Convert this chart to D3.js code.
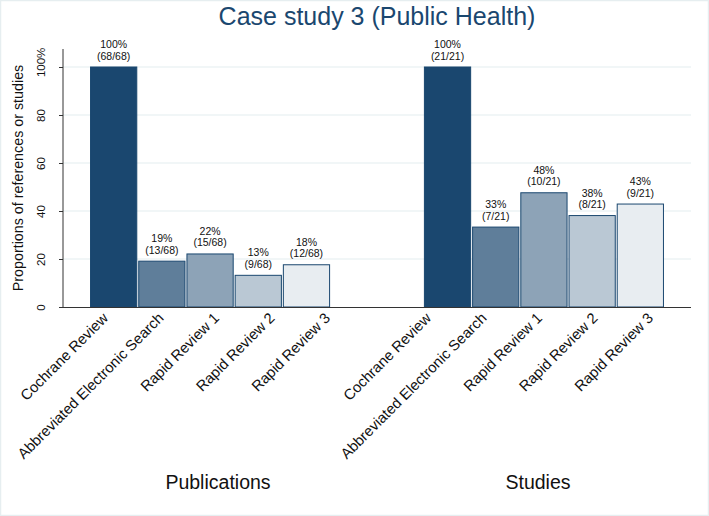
<!DOCTYPE html>
<html>
<head>
<meta charset="utf-8">
<script src="https://cdn.jsdelivr.net/npm/d3@7"></script>
<style>
  html, body { margin: 0; padding: 0; background: #ffffff; }
  svg { display: block; font-family: "Liberation Sans", Arial, Helvetica, sans-serif; }
</style>
</head>
<body>
<svg id="chart" width="709" height="516"></svg>
<script>
// ---- data ----
const groups = ["Publications", "Studies"];
const categories = ["Cochrane Review", "Abbreviated Electronic Search", "Rapid Review 1", "Rapid Review 2", "Rapid Review 3"];
const publicationsPct = [100, 19.1, 22.1, 13.2, 17.6];
const publicationsLabel = ["(68/68)", "(13/68)", "(15/68)", "(9/68)", "(12/68)"];
const studiesPct = [100, 33.3, 47.6, 38.1, 42.9];
const studiesLabel = ["(21/21)", "(7/21)", "(10/21)", "(8/21)", "(9/21)"];
const yTicks = [0, 20, 40, 60, 80, 100];
const barColors = ["#1a476f", "#5f7e9a", "#8da3b7", "#bac8d4", "#e8edf1"];
const titleText = "Case study 3 (Public Health)";
const yTitle = "Proportions of references or studies";

const seriesByGroup = {
  "Publications": { pct: publicationsPct, label: publicationsLabel },
  "Studies": { pct: studiesPct, label: studiesLabel }
};

// ---- layout ----
const W = 709, H = 516;
const pLeft = 63, pRight = 691, pTop = 49, pBottom = 307;
const catLabelCenter = { "Publications": 220, "Studies": 543 };
const groupLabelCenter = { "Publications": 218, "Studies": 538 };
const catLabelStep = 55.5;
const svg = d3.select("#chart");

// faint outer border
svg.append("rect").attr("x", 0.5).attr("y", 0.5).attr("width", W - 1).attr("height", H - 1)
  .attr("fill", "#ffffff").attr("stroke", "#e6eef0").attr("stroke-width", 1.5);

const y = d3.scaleLinear().domain([0, 100]).range([pBottom, 67]);
const x0 = d3.scaleBand().domain(groups).range([pLeft, pRight]).paddingInner(0.281).paddingOuter(0.081);
const x1 = d3.scaleBand().domain(categories).range([0, x0.bandwidth()]).paddingInner(0.02);
const color = d3.scaleOrdinal().domain(categories).range(barColors);

// gridlines
svg.append("g").selectAll("line").data(yTicks.filter(d => d > 0)).join("line")
  .attr("x1", pLeft).attr("x2", pRight)
  .attr("y1", d => y(d)).attr("y2", d => y(d))
  .attr("stroke", "#e3edef").attr("stroke-width", 1.2);

// title
svg.append("text").attr("x", (pLeft + pRight) / 2).attr("y", 25)
  .attr("text-anchor", "middle").attr("font-size", 25).attr("fill", "#1a476f")
  .text(titleText);

// bars
const gGroups = svg.append("g").selectAll("g").data(groups).join("g")
  .attr("transform", g => `translate(${x0(g)},0)`);

gGroups.each(function(g) {
  const s = seriesByGroup[g];
  const rows = categories.map((c, i) => ({ cat: c, v: s.pct[i], lab: s.label[i] }));
  const sel = d3.select(this);
  sel.selectAll("rect").data(rows).join("rect")
    .attr("x", d => x1(d.cat) + 0.5)
    .attr("y", d => y(d.v))
    .attr("width", x1.bandwidth() - 1)
    .attr("height", d => y(0) - y(d.v))
    .attr("fill", d => color(d.cat))
    .attr("stroke", "#1a476f").attr("stroke-width", 1);
  const lab = sel.selectAll("text.val").data(rows).join("text").attr("class", "val")
    .attr("text-anchor", "middle").attr("font-size", 10.5).attr("fill", "#111");
  lab.append("tspan").attr("x", d => x1(d.cat) + x1.bandwidth() / 2)
    .attr("y", d => y(d.v) - 19).text(d => Math.round(d.v) + "%");
  lab.append("tspan").attr("x", d => x1(d.cat) + x1.bandwidth() / 2)
    .attr("y", d => y(d.v) - 7.5).text(d => d.lab);
});

// category labels (own spacing, as in the reference)
groups.forEach(g => {
  const cx = catLabelCenter[g];
  const xl = d3.scalePoint().domain(categories).range([cx - 2 * catLabelStep, cx + 2 * catLabelStep]);
  svg.append("g").selectAll("text").data(categories).join("text")
    .attr("text-anchor", "end").attr("font-size", 14.8).attr("fill", "#111")
    .attr("transform", c => `translate(${xl(c)},${pBottom + 12}) rotate(-45)`)
    .text(c => c);
  svg.append("text").attr("x", groupLabelCenter[g]).attr("y", 489)
    .attr("text-anchor", "middle").attr("font-size", 19.5).attr("fill", "#111").text(g);
});

// y axis
const yAxis = d3.axisLeft(y).tickValues(yTicks).tickSize(4).tickFormat(d3.format("d"));
const gy = svg.append("g").attr("transform", `translate(${pLeft},0)`).call(yAxis);
gy.select(".domain").remove();
gy.selectAll(".tick line").attr("stroke", "#333");
gy.selectAll(".tick text")
  .attr("font-size", 11.5).attr("fill", "#111")
  .attr("x", null).attr("dy", null).attr("y", null)
  .attr("text-anchor", "middle")
  .attr("transform", "translate(-18,0) rotate(-90)");
gy.attr("font-family", null).attr("font-size", null);
svg.append("line").attr("x1", pLeft).attr("x2", pLeft).attr("y1", pTop).attr("y2", pBottom + 0.5)
  .attr("stroke", "#333").attr("stroke-width", 1);
svg.append("text").attr("text-anchor", "middle").attr("font-size", 11.5).attr("fill", "#111")
  .attr("transform", `translate(45,53) rotate(-90)`).text("%");

// x axis line
svg.append("line").attr("x1", pLeft).attr("x2", pRight).attr("y1", pBottom + 0.5).attr("y2", pBottom + 0.5)
  .attr("stroke", "#333").attr("stroke-width", 1);

// y title
svg.append("text").attr("text-anchor", "middle").attr("font-size", 14.3).attr("fill", "#111")
  .attr("transform", `translate(23,${(pTop + pBottom) / 2}) rotate(-90)`).text(yTitle);
</script>
</body>
</html>
